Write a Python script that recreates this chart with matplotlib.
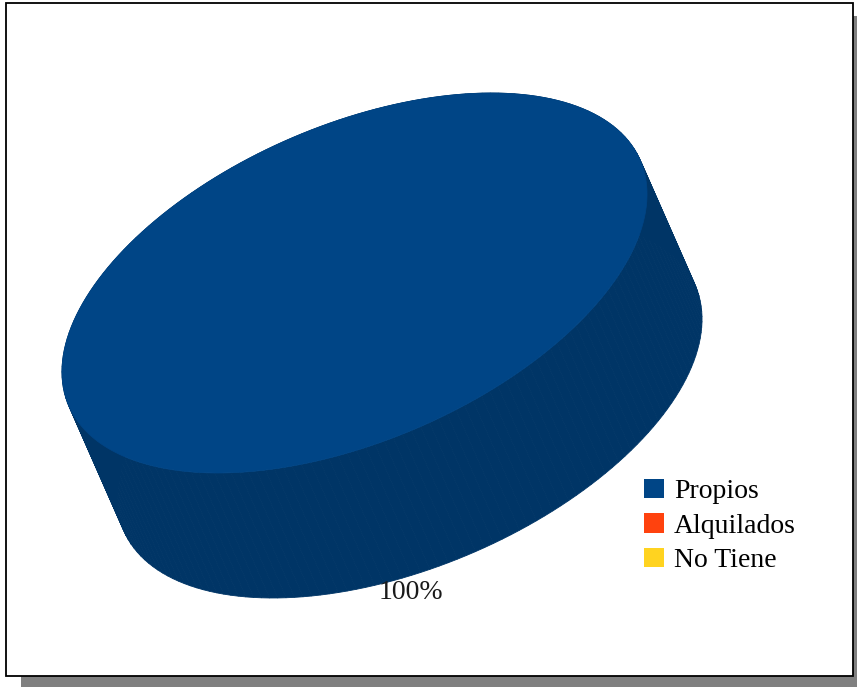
import numpy as np
import matplotlib
matplotlib.use('Agg')
import matplotlib.pyplot as plt
from matplotlib.patches import Rectangle, Polygon, Patch

labels = ['Propios', 'Alquilados', 'No Tiene']
values = [100, 0, 0]
colors = ['#004586', '#ff420e', '#ffd320']
side_colors = ['#003566', '#c7330b', '#c7a419']

W, H = 857, 687
fig = plt.figure(figsize=(W / 100, H / 100), dpi=100)
ax = fig.add_axes([0, 0, 1, 1])
ax.set_xlim(0, W)
ax.set_ylim(H, 0)
ax.axis('off')

# page frame with drop shadow
ax.add_patch(Rectangle((21, 16), 900, 700, color='#808080', lw=0, zorder=0))
ax.add_patch(Rectangle((6, 3), 847, 673, facecolor='white', edgecolor='black', lw=1.3, zorder=1))

# tilted disc geometry (pixel space)
c = np.array([354.5, 283.0])
phi = np.radians(23.2)
ex = 311 * np.array([np.cos(phi), -np.sin(phi)])
ey = 158 * np.array([-np.sin(phi), -np.cos(phi)])
depth = np.array([55.0, 125.0])


def proj(theta, r=1.0, lift=0.0):
    theta = np.atleast_1d(theta)
    return c + r * (np.cos(theta)[:, None] * ex + np.sin(theta)[:, None] * ey) + lift * depth


total = float(sum(values))
start = np.radians(79)
angles = []
a0 = start
for v in values:
    a1 = a0 + 2 * np.pi * v / total
    angles.append((a0, a1))
    a0 = a1

# side walls
for (a0, a1), v, sc in zip(angles, values, side_colors):
    if v <= 0:
        continue
    t = np.linspace(a0, a1, 200)
    top = proj(t)
    bot = proj(t, lift=1)
    for i in range(len(t) - 1):
        quad = [top[i], top[i + 1], bot[i + 1], bot[i]]
        ax.add_patch(Polygon(quad, closed=True, facecolor=sc, edgecolor=sc, lw=0.6, zorder=2))

# top faces
for (a0, a1), v, col in zip(angles, values, colors):
    if v <= 0:
        continue
    t = np.linspace(a0, a1, 400)
    pts = proj(t)
    if v < total:
        pts = np.vstack([c, pts])
    ax.add_patch(Polygon(pts, closed=True, facecolor=col, edgecolor=col, lw=0.5, zorder=3))

# percentage labels
for (a0, a1), v in zip(angles, values):
    if v <= 0:
        continue
    p = proj((a0 + a1) / 2, r=1.1, lift=1)[0]
    ax.text(p[0] - 6, p[1] + 2, '%d%%' % round(100 * v / total), ha='center', va='center',
            fontsize=20, family='Liberation Serif', color='#1a1a1a', zorder=4)

handles = [Patch(facecolor=col, edgecolor='none') for col in colors]
fig.legend(handles, labels, loc='upper left', bbox_to_anchor=(644 / W, 1 - 479 / H),
           frameon=False, prop={'family': 'Liberation Serif', 'size': 20},
           handlelength=0.72, handleheight=0.68, handletextpad=0.36,
           labelspacing=0.33, borderpad=0, borderaxespad=0)

fig.savefig('out.png', dpi=100)
